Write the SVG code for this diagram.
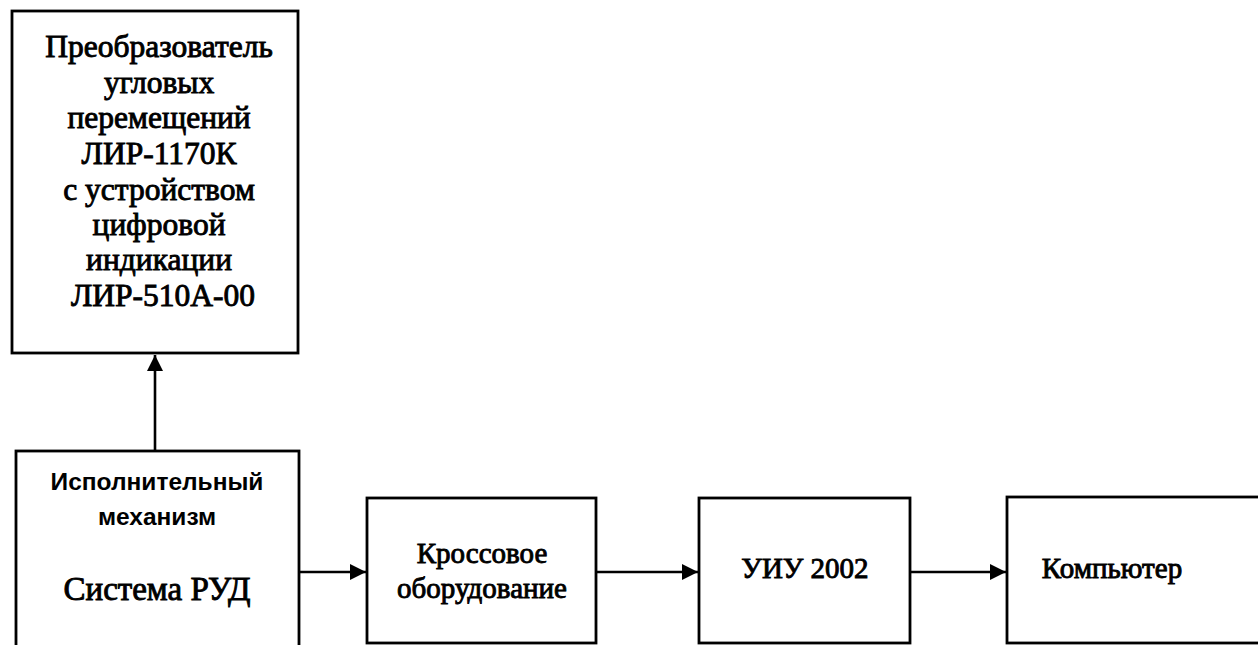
<svg xmlns="http://www.w3.org/2000/svg" width="1258" height="645" viewBox="0 0 1258 645">
<defs>
<marker id="ah" viewBox="0 0 16 16" refX="16" refY="8" markerWidth="16" markerHeight="16" markerUnits="userSpaceOnUse" orient="auto">
<path d="M0,0 L16,8 L0,16 Z" fill="#000"/>
</marker>
<style>
.box{fill:#fff;stroke:#000;stroke-width:2.8}
.ser{font-family:"Liberation Serif","Times New Roman",serif;fill:#000;stroke:#000;stroke-width:0.9;text-anchor:middle}
.san{font-family:"Liberation Sans",Arial,sans-serif;font-weight:bold;fill:#000;text-anchor:middle}
.con{stroke:#000;stroke-width:2.6;fill:none;marker-end:url(#ah)}
</style>
</defs>
<rect width="1258" height="645" fill="#fff"/>
<g id="n1">
<rect class="box" x="12" y="11" width="286" height="342"/>
<text class="ser" font-size="31.5" x="163">
<tspan x="163" y="57">Преобразователь</tspan>
<tspan x="163" y="93">угловых</tspan>
<tspan x="163" y="128">перемещений</tspan>
<tspan x="163" y="164">ЛИР-1170К</tspan>
<tspan x="163" y="200">с устройством</tspan>
<tspan x="163" y="235">цифровой</tspan>
<tspan x="163" y="270">индикации</tspan>
<tspan x="163" y="306">ЛИР-510А-00</tspan>
</text>
</g>
<g id="n2">
<rect class="box" x="16" y="451" width="283" height="200"/>
<text class="san" font-size="24.5" x="157" y="490">Исполнительный</text>
<text class="san" font-size="24.5" x="157" y="525">механизм</text>
<text class="ser" font-size="33" x="157" y="600">Система РУД</text>
</g>
<g id="n3">
<rect class="box" x="367" y="498" width="229" height="145"/>
<text class="ser" font-size="29" x="482" y="563">Кроссовое</text>
<text class="ser" font-size="29" x="482" y="598">оборудование</text>
</g>
<g id="n4">
<rect class="box" x="699" y="498" width="211" height="145"/>
<text class="ser" font-size="29" x="805" y="578">УИУ 2002</text>
</g>
<g id="n5">
<rect class="box" x="1007" y="497" width="270" height="146"/>
<text class="ser" font-size="29" x="1112" y="578">Компьютер</text>
</g>
<g id="connectors">
<line class="con" x1="155" y1="451" x2="155" y2="355"/>
<line class="con" x1="299" y1="572" x2="366" y2="572"/>
<line class="con" x1="596" y1="572" x2="698" y2="572"/>
<line class="con" x1="910" y1="572" x2="1006" y2="572"/>
</g>
</svg>
